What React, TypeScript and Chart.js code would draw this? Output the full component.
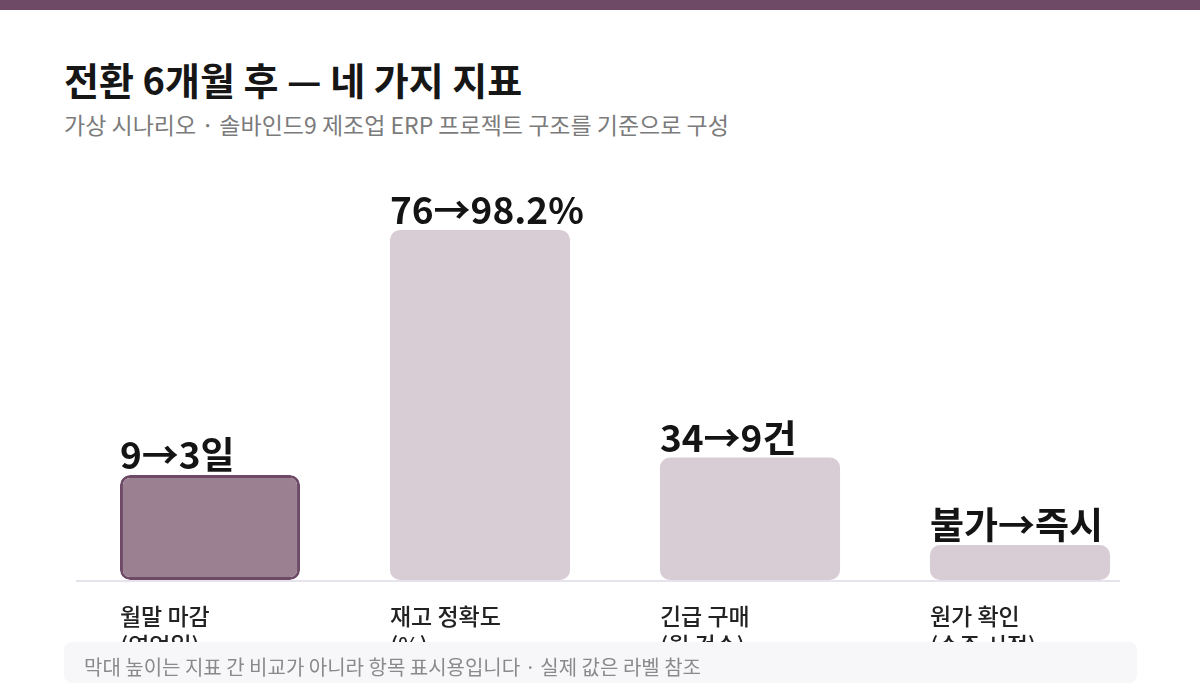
import { useEffect, useRef } from 'react';
import { Chart, ChartConfiguration, Plugin, registerables } from 'chart.js';

Chart.register(...registerables);

// Chart data
const categories = ['월말 마감', '재고 정확도', '긴급 구매', '원가 확인'];
const units = ['(영업일)', '(%)', '(월 건수)', '(수주 시점)'];
const valueLabels = ['9→3일', '76→98.2%', '34→9건', '불가→즉시'];
// display heights only (not comparable between metrics)
const displayHeights = [30, 100, 35, 10];

const FONT = "'Noto Sans CJK KR', 'Noto Sans', sans-serif";
const PURPLE = '#6e4a67';

// Baseline, value labels above bars and two-line category labels under them
const labelsPlugin: Plugin<'bar'> = {
  id: 'labelsPlugin',
  beforeDatasetsDraw(chart) {
    const { ctx } = chart;
    const y0 = chart.scales.y.getPixelForValue(0);
    ctx.save();
    ctx.strokeStyle = '#e6e3ec';
    ctx.lineWidth = 2;
    ctx.beginPath();
    ctx.moveTo(chart.chartArea.left + 1, y0 + 1);
    ctx.lineTo(1120, y0 + 1);
    ctx.stroke();
    ctx.restore();
  },
  afterDatasetsDraw(chart) {
    const { ctx } = chart;
    const meta = chart.getDatasetMeta(0);
    const y0 = chart.scales.y.getPixelForValue(0);
    ctx.save();
    meta.data.forEach((bar: any, i) => {
      const left = bar.x - bar.width / 2;
      ctx.textAlign = 'left';
      ctx.textBaseline = 'alphabetic';
      ctx.fillStyle = '#141414';
      ctx.font = `700 37px ${FONT}`;
      ctx.fillText(valueLabels[i], left, bar.y - 6);

      ctx.textBaseline = 'middle';
      ctx.fillStyle = '#222222';
      ctx.font = `500 23px ${FONT}`;
      ctx.fillText(categories[i], left, y0 + 36);
      ctx.fillText(units[i], left, y0 + 65);
    });
    ctx.restore();
  },
};

export default function App() {
  const chartRef = useRef<HTMLCanvasElement>(null);
  const chartInstance = useRef<Chart | null>(null);

  useEffect(() => {
    if (!chartRef.current) return;
    if (chartInstance.current) chartInstance.current.destroy();

    const config: ChartConfiguration<'bar'> = {
      type: 'bar',
      data: {
        labels: categories,
        datasets: [
          {
            data: displayHeights,
            backgroundColor: ['#9b8091', '#d8cdd5', '#d8cdd5', '#d8cdd5'],
            borderColor: [PURPLE, 'rgba(0,0,0,0)', 'rgba(0,0,0,0)', 'rgba(0,0,0,0)'],
            borderWidth: [3, 0, 0, 0],
            borderRadius: 10,
            borderSkipped: false,
            categoryPercentage: 1,
            barPercentage: 0.667,
          },
        ],
      },
      options: {
        responsive: true,
        maintainAspectRatio: false,
        animation: false,
        layout: {
          padding: { left: 75, right: 45, top: 230, bottom: 120 },
        },
        plugins: {
          legend: { display: false },
          tooltip: { enabled: false },
        },
        scales: {
          x: { display: false },
          y: { display: false, min: 0, max: 100 },
        },
      },
      plugins: [labelsPlugin],
    };

    chartInstance.current = new Chart(chartRef.current, config);

    return () => {
      if (chartInstance.current) {
        chartInstance.current.destroy();
        chartInstance.current = null;
      }
    };
  }, []);

  return (
    <div
      style={{
        position: 'absolute',
        left: 0,
        top: 0,
        width: 1200,
        height: 700,
        background: '#ffffff',
        overflow: 'hidden',
        fontFamily: FONT,
      }}
    >
      <div style={{ position: 'absolute', left: 0, top: 0, width: 1200, height: 10, background: PURPLE }} />
      <div
        style={{
          position: 'absolute',
          left: 64,
          top: 56,
          fontSize: 38,
          lineHeight: '46px',
          fontWeight: 700,
          color: '#161616',
          whiteSpace: 'nowrap',
        }}
      >
        전환 6개월 후 — 네 가지 지표
      </div>
      <div
        style={{
          position: 'absolute',
          left: 64,
          top: 109,
          fontSize: 23,
          lineHeight: '30px',
          color: '#7b7b7b',
          whiteSpace: 'nowrap',
        }}
      >
        가상 시나리오 · 솔바인드9 제조업 ERP 프로젝트 구조를 기준으로 구성
      </div>
      <div style={{ position: 'absolute', left: 0, top: 0, width: 1200, height: 700 }}>
        <canvas ref={chartRef}></canvas>
      </div>
      <div
        style={{
          position: 'absolute',
          left: 64,
          top: 642,
          width: 1073,
          height: 41,
          borderRadius: 8,
          background: '#f7f6f9',
          overflow: 'hidden',
        }}
      >
        <div
          style={{
            position: 'absolute',
            left: 20,
            top: 10,
            fontSize: 20,
            lineHeight: '30px',
            color: '#8a8a8a',
            whiteSpace: 'nowrap',
          }}
        >
          막대 높이는 지표 간 비교가 아니라 항목 표시용입니다 · 실제 값은 라벨 참조
        </div>
      </div>
    </div>
  );
}
